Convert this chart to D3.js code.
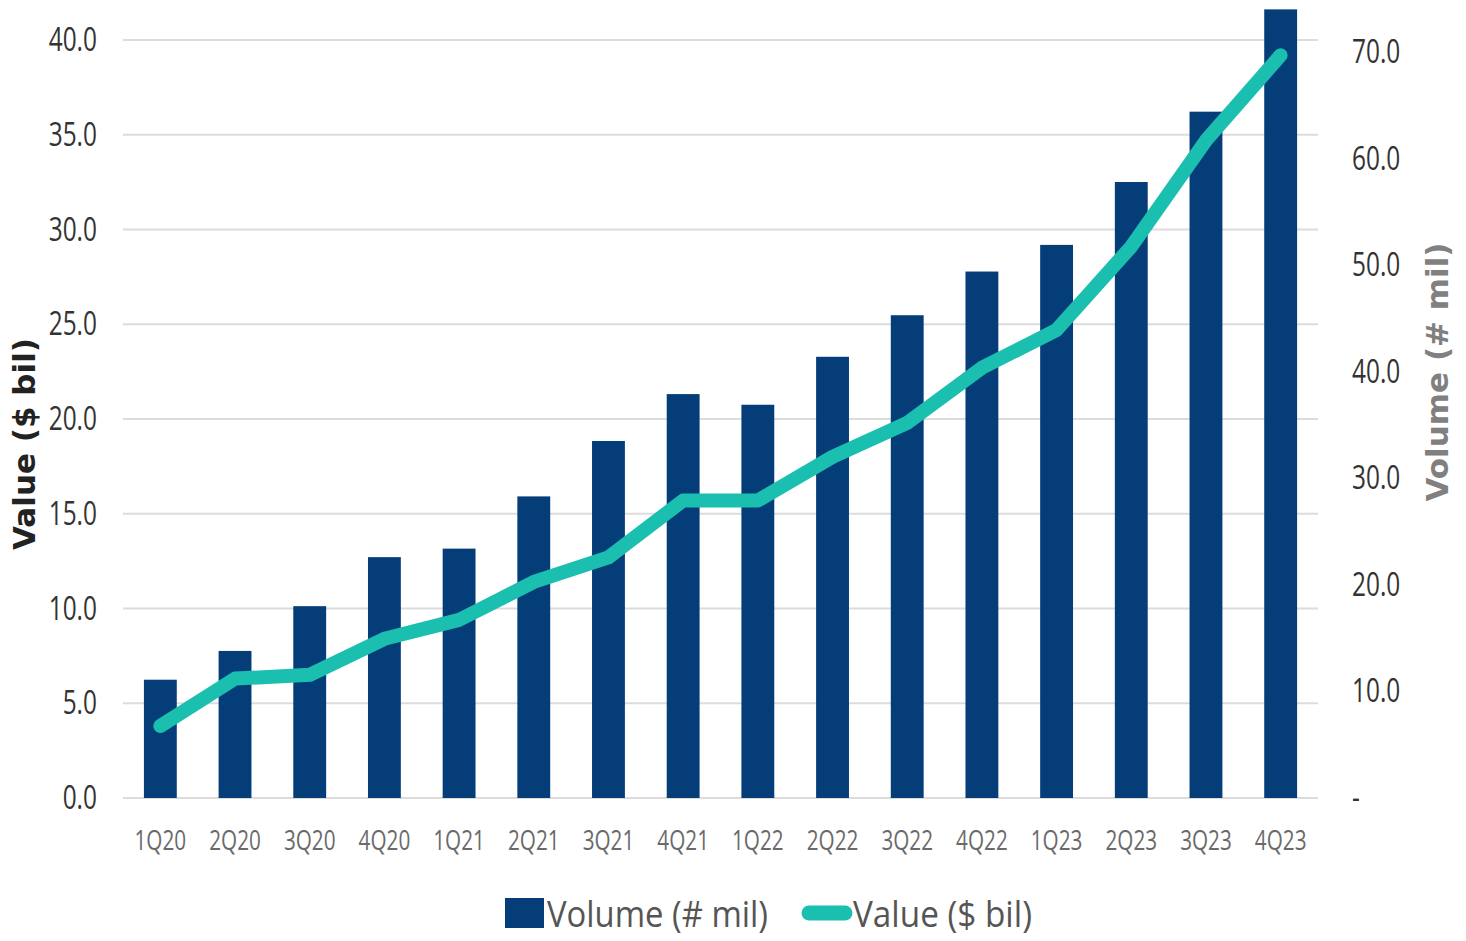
<!DOCTYPE html>
<html>
<head>
<meta charset="utf-8">
<script src="https://cdn.jsdelivr.net/npm/d3@7"></script>
<style>
  html, body { margin: 0; padding: 0; background: #fff; }
  svg { display: block; }
</style>
</head>
<body>
<svg id="chart" width="1466" height="941"></svg>
<script>
const categories = ["1Q20","2Q20","3Q20","4Q20","1Q21","2Q21","3Q21","4Q21","1Q22","2Q22","3Q22","4Q22","1Q23","2Q23","3Q23","4Q23"];
const volume = [11.1, 13.8, 18.0, 22.6, 23.4, 28.3, 33.5, 37.9, 36.9, 41.4, 45.3, 49.4, 51.9, 57.8, 64.4, 74.0];
const value = [3.8, 6.3, 6.5, 8.4, 9.4, 11.4, 12.7, 15.7, 15.7, 18.0, 19.8, 22.7, 24.7, 29.1, 34.7, 39.2];
const leftTicks = [0, 5, 10, 15, 20, 25, 30, 35, 40];
const rightTicks = [0, 10, 20, 30, 40, 50, 60, 70];
const seriesNames = ["Volume (# mil)", "Value ($ bil)"];

const navy = "#053d79";
const teal = "#1bbfb0";
const svg = d3.select("#chart");
const FONT = '"Open Sans", sans-serif';
const SQUEEZE = "scale(0.74,1)";

const x = d3.scaleBand().domain(categories).range([123, 1318]).paddingInner(0.56).paddingOuter(0.28);
const yL = d3.scaleLinear().domain([0, 40]).range([798, 40]);
const yR = d3.scaleLinear().domain([0, 70]).range([798, 52]);

// gridlines
svg.append("g").selectAll("line").data(leftTicks).join("line")
  .attr("x1", 123).attr("x2", 1318)
  .attr("y1", d => yL(d)).attr("y2", d => yL(d))
  .attr("stroke", "#dcdcdc").attr("stroke-width", 2);

// bars
svg.append("g").selectAll("rect").data(categories).join("rect")
  .attr("x", d => x(d))
  .attr("width", x.bandwidth())
  .attr("y", (d, i) => yR(volume[i]))
  .attr("height", (d, i) => yR(0) - yR(volume[i]))
  .attr("fill", navy);

// line
const line = d3.line().x((d, i) => x(categories[i]) + x.bandwidth() / 2).y(d => yL(d));
svg.append("path").datum(value)
  .attr("d", line)
  .attr("fill", "none")
  .attr("stroke", teal)
  .attr("stroke-width", 14)
  .attr("stroke-linecap", "round")
  .attr("stroke-linejoin", "round");

// left axis
const axL = svg.append("g").attr("transform", "translate(97,0)")
  .call(d3.axisLeft(yL).tickValues(leftTicks).tickSize(0).tickPadding(0).tickFormat(d3.format(".1f")));
axL.select(".domain").remove();
axL.selectAll("text").attr("font-family", FONT).attr("font-size", 33).attr("fill", "#333")
  .attr("transform", SQUEEZE);

// right axis
const axR = svg.append("g").attr("transform", "translate(1352,0)")
  .call(d3.axisRight(yR).tickValues(rightTicks).tickSize(0).tickPadding(0)
    .tickFormat(d => d === 0 ? "-" : d3.format(".1f")(d)));
axR.select(".domain").remove();
axR.selectAll("text").attr("font-family", FONT).attr("font-size", 33).attr("fill", "#333")
  .attr("transform", SQUEEZE);

// bottom axis
const axB = svg.append("g").attr("transform", "translate(0,830)")
  .call(d3.axisBottom(x).tickSize(0).tickPadding(0));
axB.select(".domain").remove();
axB.selectAll("text").attr("font-family", FONT).attr("font-size", 28).attr("fill", "#6a6a6a")
  .attr("dy", "0.71em").attr("transform", SQUEEZE);

// axis titles
svg.append("text")
  .attr("transform", "translate(35,444) rotate(-90)")
  .attr("text-anchor", "middle")
  .attr("font-family", "DejaVu Sans, sans-serif").attr("font-weight", "bold")
  .attr("font-size", 31).attr("fill", "#222")
  .text("Value ($ bil)");
svg.append("text")
  .attr("transform", "translate(1448,372) rotate(-90)")
  .attr("text-anchor", "middle")
  .attr("font-family", "DejaVu Sans, sans-serif").attr("font-weight", "bold")
  .attr("font-size", 31).attr("fill", "#808080")
  .text("Volume (# mil)");

// legend
const lg = svg.append("g");
lg.append("rect").attr("x", 505).attr("y", 898).attr("width", 39).attr("height", 30).attr("fill", navy);
lg.append("text").attr("x", 547).attr("y", 927).attr("font-family", FONT).attr("font-size", 37).attr("fill", "#555")
  .attr("textLength", 221).attr("lengthAdjust", "spacingAndGlyphs").text(seriesNames[0]);
lg.append("line").attr("x1", 809).attr("x2", 845).attr("y1", 913).attr("y2", 913)
  .attr("stroke", teal).attr("stroke-width", 15).attr("stroke-linecap", "round");
lg.append("text").attr("x", 853).attr("y", 927).attr("font-family", FONT).attr("font-size", 37).attr("fill", "#555")
  .attr("textLength", 179).attr("lengthAdjust", "spacingAndGlyphs").text(seriesNames[1]);
</script>
</body>
</html>
